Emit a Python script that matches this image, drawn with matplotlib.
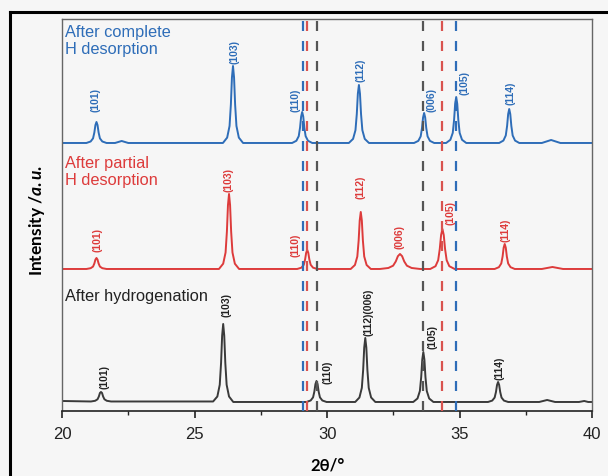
import matplotlib
matplotlib.use("Agg")
import matplotlib.pyplot as plt
from matplotlib.lines import Line2D
from matplotlib.ticker import MultipleLocator

plt.rcParams['mathtext.fontset'] = 'custom'
plt.rcParams['mathtext.it'] = 'Lato:italic:bold'
plt.rcParams['mathtext.rm'] = 'Lato:bold'

# ---------------- data ----------------
# Blue: after complete H desorption (intensity relative to its own baseline)
blue_x = [20.0,
          20.92, 21.08, 21.17, 21.22, 21.26, 21.30, 21.34, 21.38, 21.43, 21.52, 21.68,
          22.0, 22.25, 22.5,
          26.07, 26.23, 26.32, 26.37, 26.41, 26.45, 26.49, 26.53, 26.58, 26.67, 26.83,
          28.68, 28.84, 28.93, 28.98, 29.02, 29.06, 29.10, 29.14, 29.19, 29.28, 29.44,
          30.82, 30.98, 31.07, 31.12, 31.16, 31.20, 31.24, 31.28, 31.33, 31.42, 31.58,
          33.28, 33.44, 33.53, 33.58, 33.62, 33.66, 33.70, 33.74, 33.79, 33.88, 34.04,
          34.49, 34.65, 34.74, 34.79, 34.83, 34.87, 34.91, 34.95, 35.00, 35.09, 35.25,
          36.49, 36.65, 36.74, 36.79, 36.83, 36.87, 36.91, 36.95, 37.00, 37.09, 37.25,
          38.1, 38.45, 38.8, 40.0]
blue_y = [0,
          0, 1.5, 4.6, 10.5, 17.9, 21, 17.9, 10.5, 4.6, 1.5, 0,
          0, 2, 0,
          0, 5.4, 17, 38.5, 65.5, 77, 65.5, 38.5, 17, 5.4, 0,
          0, 2.2, 6.8, 15.5, 26.4, 31, 26.4, 15.5, 6.8, 2.2, 0,
          0, 4.1, 12.8, 29, 49.3, 58, 49.3, 29, 12.8, 4.1, 0,
          0, 2.1, 6.6, 15, 25.5, 30, 25.5, 15, 6.6, 2.1, 0,
          0, 3.2, 10.1, 23, 39.1, 46, 39.1, 23, 10.1, 3.2, 0,
          0, 2.4, 7.5, 17, 28.9, 34, 28.9, 17, 7.5, 2.4, 0,
          0, 3, 0, 0]

# Red: after partial H desorption
red_x = [20.0,
         20.92, 21.08, 21.17, 21.22, 21.26, 21.30, 21.34, 21.38, 21.43, 21.52, 21.68,
         25.92, 26.08, 26.17, 26.22, 26.26, 26.30, 26.34, 26.38, 26.43, 26.52, 26.68,
         28.87, 29.03, 29.12, 29.17, 29.21, 29.25, 29.29, 29.33, 29.38, 29.47, 29.63,
         30.89, 31.05, 31.14, 31.19, 31.23, 31.27, 31.31, 31.35, 31.40, 31.49, 31.65,
         31.99, 32.31, 32.49, 32.59, 32.67, 32.75, 32.83, 32.91, 33.01, 33.19, 33.51,
         33.89, 34.09, 34.19, 34.25, 34.30, 34.35, 34.40, 34.45, 34.51, 34.61, 34.81,
         36.32, 36.48, 36.57, 36.62, 36.66, 36.70, 36.74, 36.78, 36.83, 36.92, 37.08,
         38.1, 38.5, 38.9, 40.0]
red_y = [0,
         0, 0.8, 2.4, 5.5, 9.4, 11, 9.4, 5.5, 2.4, 0.8, 0,
         0, 5.3, 16.5, 37.5, 63.8, 75, 63.8, 37.5, 16.5, 5.3, 0,
         0, 1.3, 4.2, 9.5, 16.2, 19, 16.2, 9.5, 4.2, 1.3, 0,
         0, 4, 12.5, 28.5, 48.5, 57, 48.5, 28.5, 12.5, 4, 0,
         0, 1, 3.3, 7.5, 12.8, 15, 12.8, 7.5, 3.3, 1, 0,
         0, 2.8, 8.8, 20, 34, 40, 34, 20, 8.8, 2.8, 0,
         0, 1.8, 5.5, 12.5, 21.3, 25, 21.3, 12.5, 5.5, 1.8, 0,
         0, 2, 0, 0]

# Black: after hydrogenation
black_x = [20.0,
           21.09, 21.25, 21.34, 21.39, 21.43, 21.47, 21.51, 21.55, 21.60, 21.69, 21.85,
           25.70, 25.86, 25.95, 26.00, 26.04, 26.08, 26.12, 26.16, 26.21, 26.30, 26.46,
           29.22, 29.38, 29.47, 29.52, 29.56, 29.60, 29.64, 29.68, 29.73, 29.82, 29.98,
           31.06, 31.22, 31.31, 31.36, 31.40, 31.44, 31.48, 31.52, 31.57, 31.66, 31.82,
           33.25, 33.41, 33.50, 33.55, 33.59, 33.63, 33.67, 33.71, 33.76, 33.85, 34.01,
           36.07, 36.23, 36.32, 36.37, 36.41, 36.45, 36.49, 36.53, 36.58, 36.67, 36.83,
           38.0, 38.3, 38.6, 39.5, 39.7, 39.85, 40.0]
black_y = [1,
           0.5, 1.2, 2.7, 5.5, 9, 10, 9, 5.5, 2.7, 1.2, 0.5,
           0.5, 5.5, 17.2, 39, 66.3, 78, 66.3, 39, 17.2, 5.5, 0,
           0, 1.5, 4.6, 10.5, 17.9, 21, 17.9, 10.5, 4.6, 1.5, 0,
           0, 4.5, 14.1, 32, 54.4, 64, 54.4, 32, 14.1, 4.5, 0,
           0, 3.5, 11, 25, 42.5, 50, 42.5, 25, 11, 3.5, 0,
           0, 1.4, 4.4, 10, 17, 20, 17, 10, 4.4, 1.4, 0,
           0, 2, 0, 0, 1, 0, 0]

# Peak labels (Miller indices)
blue_labels = ["(101)", "(103)", "(110)", "(112)", "(006)", "(105)", "(114)"]
blue_lab_x = [21.25, 26.49, 28.79, 31.25, 33.92, 35.17, 36.90]
blue_lab_y = [312, 360, 312, 342, 312, 329, 319]

red_labels = ["(101)", "(103)", "(110)", "(112)", "(006)", "(105)", "(114)"]
red_lab_x = [21.32, 26.28, 28.79, 31.25, 32.72, 34.64, 36.72]
red_lab_y = [172, 232, 167, 225, 175, 199, 182]

black_labels = ["(101)", "(103)", "(110)", "(112)(006)", "(105)", "(114)"]
black_lab_x = [21.62, 26.19, 30.00, 31.55, 33.96, 36.49]
black_lab_y = [35, 107, 40, 100, 75, 44]

# Reference dashed lines
ref_blue = [29.09, 34.85]
ref_red = [29.25, 34.35]
ref_black = [29.60, 33.63]

series_names = ["After complete\nH desorption", "After partial\nH desorption", "After hydrogenation"]

# ---------------- style ----------------
C_BLUE = "#2E6DB8"
C_RED = "#DD3B3B"
C_BLACK = "#3a3a3a"
C_DBLUE = "#2E6DB8"
C_DRED = "#D9534F"
C_DGRAY = "#555555"
BG = "#f6f6f6"

OFF_BLACK, OFF_RED, OFF_BLUE = 9, 142, 268

fig = plt.figure(figsize=(6.08, 4.77), dpi=100, facecolor=BG)
ax = fig.add_axes([0.102, 0.1363, 0.872, 0.8218])
ax.set_facecolor(BG)

ax.plot(blue_x, [v + OFF_BLUE for v in blue_y], color=C_BLUE, lw=1.4)
ax.plot(red_x, [v + OFF_RED for v in red_y], color=C_RED, lw=1.4)
ax.plot(black_x, [v + OFF_BLACK for v in black_y], color=C_BLACK, lw=1.4)

for xv in ref_blue:
    ax.axvline(xv, color=C_DBLUE, lw=1.6, linestyle=(0, (4.5, 4.5)), zorder=3)
for xv in ref_red:
    ax.axvline(xv, color=C_DRED, lw=1.6, linestyle=(0, (4.5, 4.5)), zorder=3)
for xv in ref_black:
    ax.axvline(xv, color=C_DGRAY, lw=1.6, linestyle=(0, (4.5, 4.5)), zorder=3)

lab_font = dict(family="Liberation Sans", fontweight="bold", fontsize=7.5,
                rotation=90, ha="center", va="center")
for t, x, y in zip(blue_labels, blue_lab_x, blue_lab_y):
    ax.text(x, y, t, color=C_BLUE, **lab_font)
for t, x, y in zip(red_labels, red_lab_x, red_lab_y):
    ax.text(x, y, t, color=C_RED, **lab_font)
for t, x, y in zip(black_labels, black_lab_x, black_lab_y):
    ax.text(x, y, t, color="#222222", **lab_font)

name_font = dict(family="Liberation Sans", fontsize=11.8, ha="left", va="top", linespacing=1.18)
ax.text(20.1, 387, series_names[0], color=C_BLUE, **name_font)
ax.text(20.1, 256, series_names[1], color=C_RED, **name_font)
ax.text(20.1, 123, series_names[2], color="#222222", **name_font)

ax.set_xlim(20, 40)
ax.set_ylim(0, 392)
ax.set_yticks([])
ax.xaxis.set_major_locator(MultipleLocator(5))
ax.xaxis.set_minor_locator(MultipleLocator(2.5))
ax.tick_params(axis="x", which="major", direction="out", length=5, width=1.2,
               labelsize=12, pad=6, colors="#222222")
ax.tick_params(axis="x", which="minor", direction="out", length=3, width=1.0, colors="#222222")
for lab in ax.get_xticklabels():
    lab.set_family("Liberation Sans")

for s in ["left", "top", "right"]:
    ax.spines[s].set_color("#666666")
    ax.spines[s].set_linewidth(1.0)
ax.spines["bottom"].set_color("#222222")
ax.spines["bottom"].set_linewidth(1.2)

ax.set_xlabel(r"2θ/°", family="Lato", fontweight="bold", fontsize=12, labelpad=11)
ax.set_ylabel(r"Intensity /$\mathit{a.u.}$", family="Lato", fontweight="bold",
              fontsize=12.5)
ax.yaxis.set_label_coords(-0.028, 0.49)

# outer frame lines (left and top)
fig.add_artist(Line2D([10 / 608, 10 / 608], [0, 1 - 13 / 477], transform=fig.transFigure,
                      color="black", lw=2.2))
fig.add_artist(Line2D([10 / 608, 1], [1 - 13 / 477, 1 - 13 / 477], transform=fig.transFigure,
                      color="black", lw=2.2))

fig.savefig("out.png", dpi=100, facecolor=BG)
